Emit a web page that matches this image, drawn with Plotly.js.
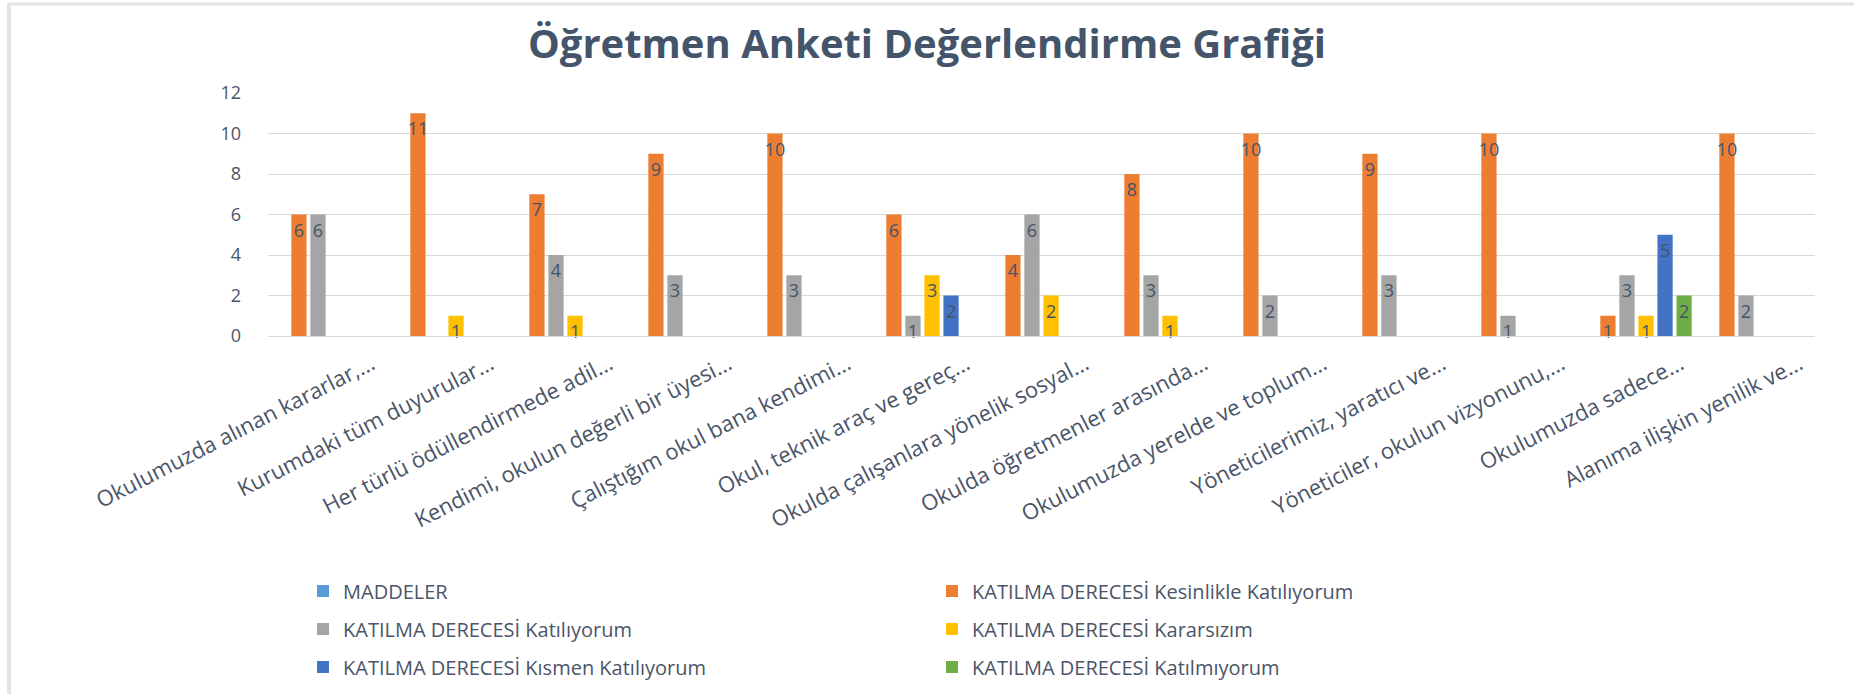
<!DOCTYPE html>
<html>
<head>
<meta charset="utf-8">
<script src="https://cdn.plot.ly/plotly-3.0.1.min.js"></script>
<style>
  html, body { margin: 0; padding: 0; background: #ffffff; }
  #chart { width: 1854px; height: 694px; }
</style>
</head>
<body>
<div id="chart"></div>
<script>
// ---- data ----
const chartTitle = "Öğretmen Anketi Değerlendirme Grafiği";

const categories = [
  "Okulumuzda alınan kararlar,...",
  "Kurumdaki tüm duyurular...",
  "Her türlü ödüllendirmede adil...",
  "Kendimi, okulun değerli bir üyesi...",
  "Çalıştığım okul bana kendimi...",
  "Okul, teknik araç ve gereç...",
  "Okulda çalışanlara yönelik sosyal...",
  "Okulda öğretmenler arasında...",
  "Okulumuzda yerelde ve toplum...",
  "Yöneticilerimiz, yaratıcı ve...",
  "Yöneticiler, okulun vizyonunu,...",
  "Okulumuzda sadece...",
  "Alanıma ilişkin yenilik ve..."
];

const seriesNames = [
  "MADDELER",
  "KATILMA DERECESİ Kesinlikle Katılıyorum",
  "KATILMA DERECESİ Katılıyorum",
  "KATILMA DERECESİ Kararsızım",
  "KATILMA DERECESİ Kısmen Katılıyorum",
  "KATILMA DERECESİ Katılmıyorum"
];

const maddeler      = [null, null, null, null, null, null, null, null, null, null, null, null, null];
const kesinlikle    = [6, 11, 7, 9, 10, 6, 4, 8, 10, 9, 10, 1, 10];
const katiliyorum   = [6, null, 4, 3, 3, 1, 6, 3, 2, 3, 1, 3, 2];
const kararsizim    = [null, 1, 1, null, null, 3, 2, 1, null, null, null, 1, null];
const kismen        = [null, null, null, null, null, 2, null, null, null, null, null, 5, null];
const katilmiyorum  = [null, null, null, null, null, null, null, null, null, null, null, 2, null];

const seriesValues = [maddeler, kesinlikle, katiliyorum, kararsizim, kismen, katilmiyorum];
const seriesColors = ["#5B9BD5", "#ED7D31", "#A5A5A5", "#FFC000", "#4472C4", "#70AD47"];
const legendIds    = ["legend", "legend", "legend2", "legend2", "legend3", "legend3"];

const yTicks = [0, 2, 4, 6, 8, 10, 12];

// ---- layout constants ----
const W = 1854, H = 694;
const M = { l: 268, r: 39, t: 93, b: 358 };
const FONT = "'Open Sans', 'DejaVu Sans', sans-serif";
const TEXT = "#4A5568";
const TITLE_COL = "#44546A";

const traces = seriesNames.map((name, i) => ({
  type: "bar",
  name: name,
  x: categories,
  y: seriesValues[i],
  marker: { color: seriesColors[i] },
  legend: legendIds[i],
  text: seriesValues[i].map(v => v === null ? "" : String(v)),
  textposition: "inside",
  insidetextanchor: "end",
  textangle: 0,
  constraintext: "none",
  insidetextfont: { family: FONT, size: 18, color: TITLE_COL },
  cliponaxis: false,
  hoverinfo: "x+y+name"
}));

// frame lines (top and left) expressed in paper units of the plot area
const pw = W - M.l - M.r, ph = H - M.t - M.b;
const px = v => (v - M.l) / pw;
const py = v => 1 - (v - M.t) / ph;

const legendBase = {
  orientation: "h",
  xref: "container", yref: "container",
  xanchor: "left", yanchor: "middle",
  x: 303 / W,
  font: { family: FONT, size: 20, color: TEXT },
  entrywidth: 584, entrywidthmode: "pixels",
  bgcolor: "rgba(0,0,0,0)",
  itemclick: false, itemdoubleclick: false,
  traceorder: "normal"
};

const layout = {
  width: W, height: H,
  margin: M,
  paper_bgcolor: "#ffffff",
  plot_bgcolor: "#ffffff",
  font: { family: FONT, color: TEXT },
  title: {
    text: "<b>" + chartTitle + "</b>",
    font: { family: FONT, size: 40, color: TITLE_COL },
    xref: "container", x: 0.5, xanchor: "center",
    yref: "container", y: 1 - 44 / H, yanchor: "middle"
  },
  barmode: "group",
  bargap: 0.04,
  bargroupgap: 0.2,
  xaxis: {
    type: "category",
    tickangle: -27,
    tickfont: { family: FONT, size: 22, color: TEXT },
    ticklabelshift: 44,
    ticklabelstandoff: 6,
    showgrid: false,
    showline: true, linecolor: "#D9D9D9", linewidth: 1,
    ticks: "", zeroline: false,
    automargin: false
  },
  yaxis: {
    range: [0, 12],
    tickvals: yTicks,
    ticktext: yTicks.map(String),
    tickfont: { family: FONT, size: 18, color: TEXT },
    showgrid: true, gridcolor: "#D9D9D9", gridwidth: 1,
    zeroline: false, showline: false, ticks: "",
    ticklabelstandoff: 26,
    automargin: false
  },
  legend:  Object.assign({}, legendBase, { y: 1 - 591 / H }),
  legend2: Object.assign({}, legendBase, { y: 1 - 629 / H }),
  legend3: Object.assign({}, legendBase, { y: 1 - 667 / H }),
  shapes: [
    { type: "line", xref: "paper", yref: "paper", x0: px(7), x1: px(W), y0: py(4), y1: py(4),
      line: { color: "#E1E5EA", width: 3 }, layer: "below" },
    { type: "line", xref: "paper", yref: "paper", x0: px(9), x1: px(9), y0: py(3), y1: py(H),
      line: { color: "#E1E5EA", width: 4 }, layer: "below" }
  ]
};

Plotly.newPlot("chart", traces, layout, { displayModeBar: false, staticPlot: true });
</script>
</body>
</html>
